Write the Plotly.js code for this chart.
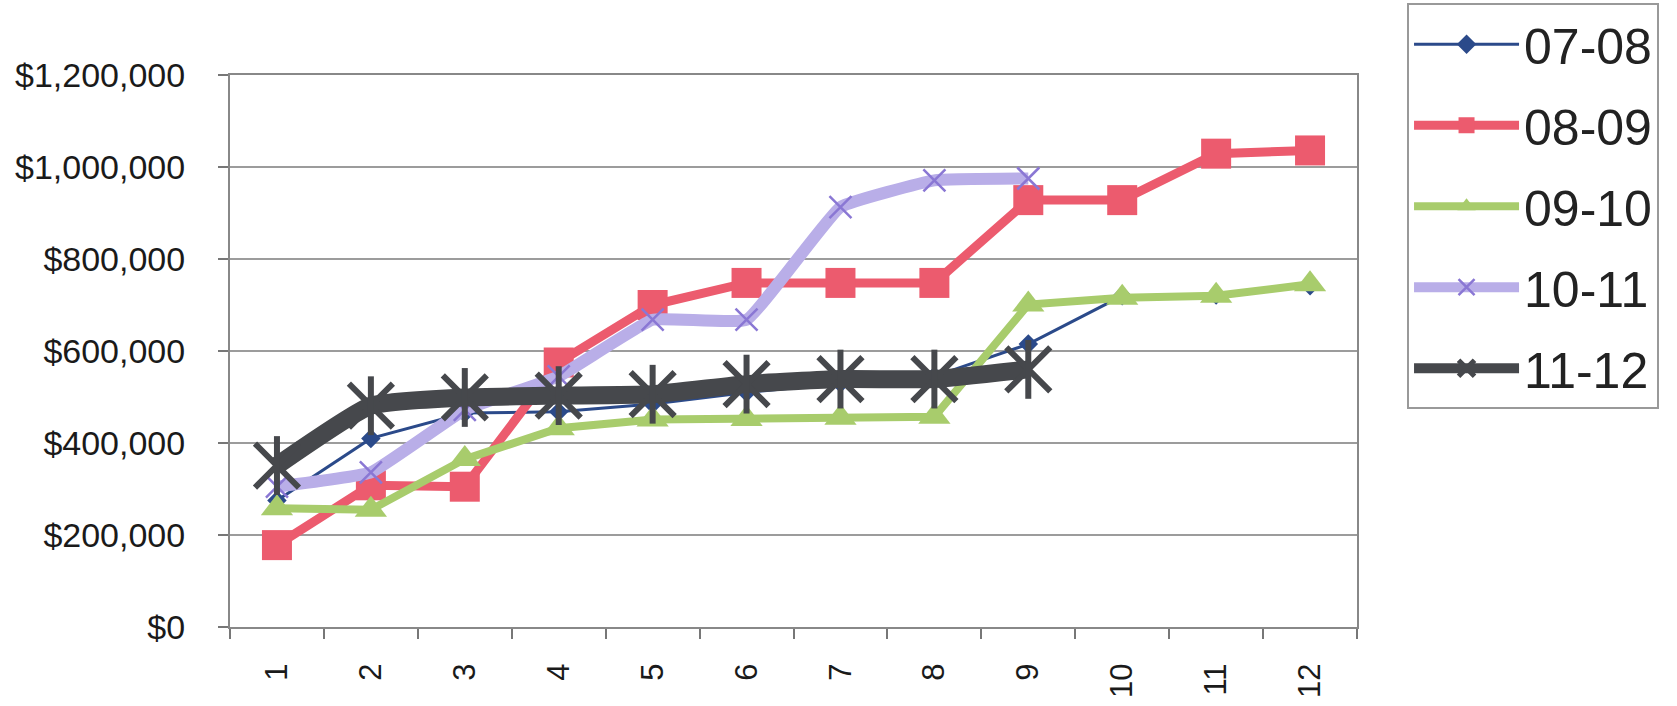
<!DOCTYPE html>
<html>
<head>
<meta charset="utf-8">
<script src="https://cdn.plot.ly/plotly-3.0.1.min.js"></script>
<style>html,body{margin:0;padding:0;background:#fff;}#chart{width:1677px;height:706px;}</style>
</head>
<body>
<div id="chart"></div>
<script>
const categories = ['1','2','3','4','5','6','7','8','9','10','11','12'];
const seriesNames = ['07-08','08-09','09-10','10-11','11-12'];
const s0708 = [275000, 410000, 465000, 468000, 485000, 510000, 530000, 545000, 615000, 720000, 722000, 742000];
const s0809 = [178000, 308000, 305000, 575000, 700000, 748000, 748000, 748000, 928000, 928000, 1029000, 1036000];
const s0910 = [258000, 255000, 365000, 432000, 451000, 452000, 455000, 457000, 701000, 716000, 720000, 745000];
const s1011 = [305000, 336000, 472000, 545000, 668000, 668000, 913000, 971000, 975000, null, null, null];
const s1112 = [351000, 481000, 499000, 503000, 506000, 528000, 539000, 539000, 560000, null, null, null];
const yTicks = [0, 200000, 400000, 600000, 800000, 1000000, 1200000];
const yTickText = yTicks.map(v => '$' + v.toLocaleString('en-US'));

const FONT = 'Liberation Sans, Arial, sans-serif';

const traces = [
  {name: seriesNames[0], y: s0708, line: {color: '#2B4A8A', width: 3, shape: 'linear'},
   marker: {symbol: 'diamond', size: 15, color: '#2B4A8A'}, legendgroup: 'g0'},
  {name: seriesNames[1], y: s0809, line: {color: '#EC5B6E', width: 9, shape: 'linear'},
   marker: {symbol: 'square', size: 30, color: '#EC5B6E'}, legendgroup: 'g1'},
  {name: seriesNames[2], y: s0910, line: {color: '#A8CC6C', width: 8, shape: 'linear'},
   marker: {symbol: 'triangle-up', size: 28, color: '#A8CC6C'}, legendgroup: 'g2'},
  {name: seriesNames[3], y: s1011, line: {color: '#B9AEE8', width: 12, shape: 'spline', smoothing: 0.3},
   marker: {symbol: 'x-thin-open', size: 22, color: '#8A77D4', line: {width: 2.5, color: '#8A77D4'}}, legendgroup: 'g3'},
  {name: seriesNames[4], y: s1112, line: {color: '#46484C', width: 18, shape: 'spline', smoothing: 0.45},
   marker: {symbol: 'x-thin-open', size: 44, color: '#46484C', line: {width: 6, color: '#46484C'}}, legendgroup: 'g4'},
  {name: seriesNames[4], y: s1112, mode: 'markers', showlegend: false,
   marker: {symbol: 'line-ns-open', size: 42, color: '#46484C', line: {width: 6, color: '#46484C'}}, legendgroup: 'g4'}
].map(t => Object.assign({
  type: 'scatter', mode: 'lines+markers', x: categories, connectgaps: false, hoverinfo: 'x+y+name'
}, t));

const layout = {
  width: 1677, height: 706,
  paper_bgcolor: '#ffffff', plot_bgcolor: '#ffffff',
  margin: {l: 230, r: 320, t: 75, b: 79, pad: 0, autoexpand: false},
  font: {family: FONT, color: '#1a1a1a', size: 32},
  showlegend: true,
  legend: {
    x: 1.0444, xanchor: 'left', y: 1.13, yanchor: 'top',
    bordercolor: '#999999', borderwidth: 2, bgcolor: '#ffffff',
    font: {family: FONT, size: 50, color: '#222'},
    itemwidth: 105, tracegroupgap: 13, traceorder: 'grouped',
    maxheight: 700
  },
  xaxis: {
    type: 'category', range: [-0.5, 11.5], tickson: 'boundaries',
    ticks: 'outside', ticklen: 10, tickwidth: 2, tickcolor: '#777',
    tickangle: -90, tickfont: {family: FONT, size: 31, color: '#1a1a1a'},
    ticklabelstandoff: 22, automargin: false,
    showgrid: false, showline: true, linecolor: '#888', linewidth: 2, mirror: true,
    zeroline: false, fixedrange: true
  },
  yaxis: {
    range: [0, 1200000], tickmode: 'array', tickvals: yTicks, ticktext: yTickText,
    ticks: 'outside', ticklen: 10, tickwidth: 2, tickcolor: '#777',
    tickfont: {family: FONT, size: 34, color: '#1a1a1a'},
    ticklabelstandoff: 26, automargin: false,
    showgrid: true, gridcolor: '#9c9c9c', gridwidth: 2,
    showline: true, linecolor: '#888', linewidth: 2, mirror: true,
    zeroline: false, fixedrange: true
  }
};

Plotly.newPlot('chart', traces, layout, {staticPlot: true, displayModeBar: false});
</script>
</body>
</html>
